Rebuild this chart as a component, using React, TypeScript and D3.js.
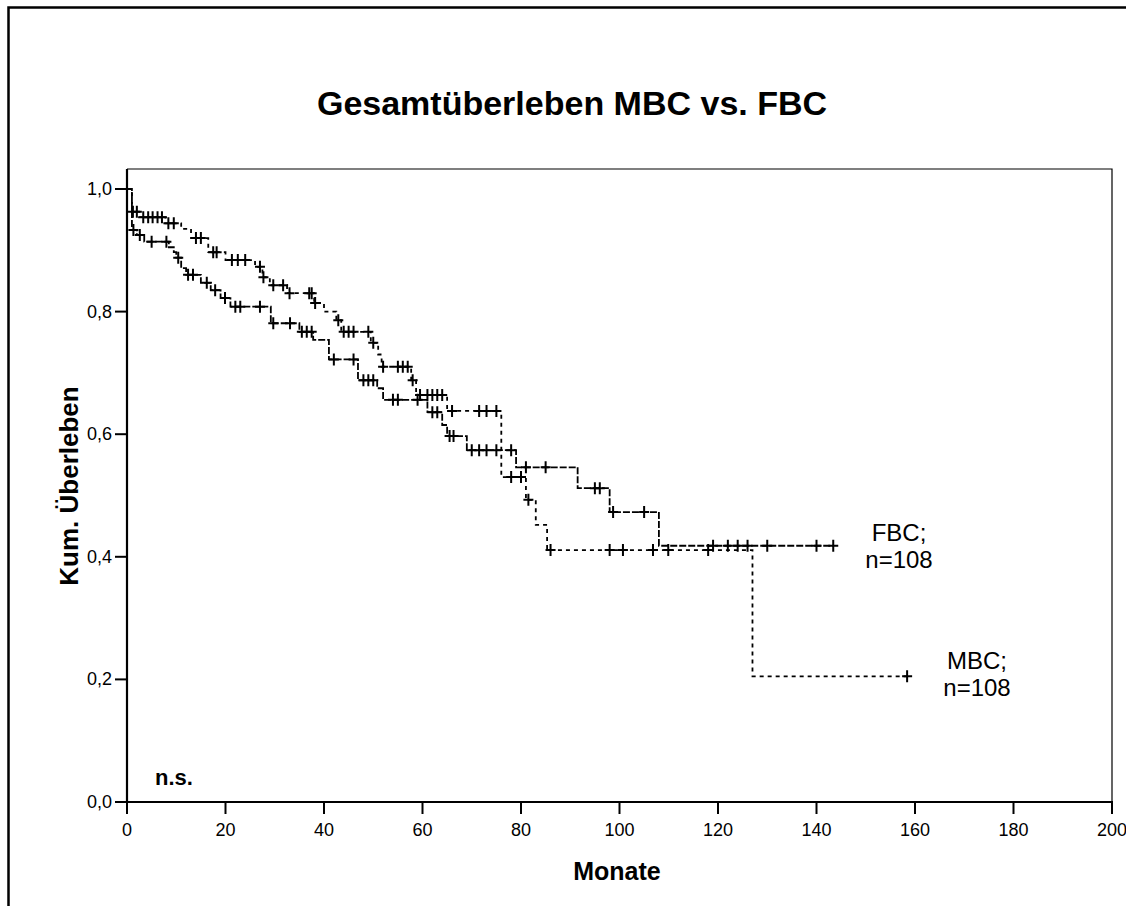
import * as d3 from 'd3';

// Kaplan-Meier: Gesamtüberleben MBC vs. FBC
const title = 'Gesamtüberleben MBC vs. FBC';
const xLabel = 'Monate';
const yLabel = 'Kum. Überleben';
const xTicks = [0, 20, 40, 60, 80, 100, 120, 140, 160, 180, 200];
const yTicks = [0, 0.2, 0.4, 0.6, 0.8, 1.0];

// MBC (dashed) - step times and survival after each step
const mbcTimes = [0, 1, 2.5, 7.8, 11, 13, 16.5, 20, 26, 27.5, 29, 32.5, 38, 40, 42.5, 43.5, 49.5, 51, 51.7, 57.7, 58.7, 65, 76, 81, 83, 85.3, 127];
const mbcSurv = [1, 0.963, 0.954, 0.944, 0.935, 0.92, 0.897, 0.884, 0.873, 0.856, 0.843, 0.83, 0.814, 0.8, 0.786, 0.767, 0.749, 0.73, 0.71, 0.688, 0.664, 0.638, 0.53, 0.493, 0.452, 0.411, 0.205];
const mbcEnd = 158.4;
const mbcCensored = [1.2, 2, 3.3, 4.3, 5.2, 6.2, 7.1, 8.4, 9.5, 14, 15, 17.5, 18.2, 21.3, 22.5, 24, 27, 27.7, 29.7, 31.7, 33, 37, 37.5, 38.2, 42.9, 44, 45, 46, 49, 50, 52, 55, 56, 57, 58, 59.5, 61, 62, 63, 64, 66, 71.5, 73, 75, 78, 80, 81.5, 86, 98, 100.7, 106.8, 109.9, 118, 158.4];

// FBC
const fbcTimes = [0, 1, 2, 3.5, 8.5, 9.5, 10, 11, 12, 15, 17, 19, 21, 29.2, 35, 37.8, 41, 46.9, 50.8, 52, 61, 64, 65, 69, 79, 91.5, 98, 108];
const fbcSurv = [1, 0.933, 0.925, 0.914, 0.905, 0.897, 0.888, 0.871, 0.86, 0.847, 0.835, 0.822, 0.808, 0.781, 0.767, 0.754, 0.722, 0.688, 0.675, 0.656, 0.636, 0.615, 0.597, 0.574, 0.546, 0.512, 0.473, 0.418];
const fbcEnd = 143.4;
const fbcCensored = [1.3, 2.6, 5, 8, 10.4, 12.4, 13.4, 16.2, 17.9, 19.9, 22, 23, 27, 29.7, 33.1, 35.5, 36.5, 37.5, 42, 46, 48, 49, 50, 54, 55, 59, 62, 63, 65.5, 66.3, 70, 71.5, 73, 75, 78, 81, 85, 95, 96, 98.7, 105, 119, 122, 124, 126, 130, 140, 143.4];

const groups = [
  { name: 'MBC;', n: 'n=108', times: mbcTimes, surv: mbcSurv, end: mbcEnd, censored: mbcCensored, dash: '4,4', labelX: 977, labelY: 669 },
  { name: 'FBC;', n: 'n=108', times: fbcTimes, surv: fbcSurv, end: fbcEnd, censored: fbcCensored, dash: '7,2', labelX: 899, labelY: 541 },
];

const W = 1126;
const H = 906;
const font = "'Liberation Sans', Arial, sans-serif";

const x = d3.scaleLinear().domain([0, 200]).range([127, 1112]);
const y = d3.scaleLinear().domain([0, 1]).range([802, 189]);
const plotTop = 169;

const fmt = (v: number) => d3.format('.1f')(v).replace('.', ',');

const survAt = (times: number[], surv: number[], t: number) => {
  const i = Math.max(0, d3.bisectRight(times, t) - 1);
  return surv[i];
};

const line = d3.line<[number, number]>()
  .x(d => x(d[0]))
  .y(d => y(d[1]))
  .curve(d3.curveStepAfter);

export default function App() {
  return (
    <svg width={W} height={H} style={{ position: 'absolute', left: 0, top: 0, background: '#fff' }} fontFamily={font}>
      <rect x={0} y={0} width={W} height={H} fill="#fff" />
      {/* outer frame */}
      <path d={`M8.5,${H + 5} V7.5 H${W + 5}`} fill="none" stroke="#000" strokeWidth={2.5} />

      <text x={572} y={115} textAnchor="middle" fontSize={34} fontWeight="bold">{title}</text>

      {/* plot box */}
      <path d={`M127,${plotTop} H1112 V802`} fill="none" stroke="#000" strokeWidth={1.2} />
      <line x1={127} x2={127} y1={plotTop} y2={803} stroke="#000" strokeWidth={2.2} />
      <line x1={126} x2={1113} y1={802} y2={802} stroke="#000" strokeWidth={2.2} />

      {yTicks.map(t => (
        <g key={`y${t}`}>
          <line x1={115} x2={127} y1={y(t)} y2={y(t)} stroke="#000" strokeWidth={2} />
          <text x={112} y={y(t) + 6} textAnchor="end" fontSize={18}>{fmt(t)}</text>
        </g>
      ))}
      {xTicks.map(t => (
        <g key={`x${t}`}>
          <line x1={x(t)} x2={x(t)} y1={802} y2={814} stroke="#000" strokeWidth={2} />
          <text x={x(t)} y={836} textAnchor="middle" fontSize={18}>{t}</text>
        </g>
      ))}

      <text x={617} y={880} textAnchor="middle" fontSize={25} fontWeight="bold">{xLabel}</text>
      <text transform="translate(78,486) rotate(-90)" textAnchor="middle" fontSize={26} fontWeight="bold">{yLabel}</text>

      {groups.map(g => {
        const pts: [number, number][] = g.times.map((t, i) => [t, g.surv[i]] as [number, number]);
        pts.push([g.end, g.surv[g.surv.length - 1]]);
        return (
          <g key={g.name}>
            <path d={line(pts) || ''} fill="none" stroke="#000" strokeWidth={1.8} strokeDasharray={g.dash} />
            {g.censored.map((c, i) => {
              const cx = x(c);
              const cy = y(survAt(g.times, g.surv, c));
              return (
                <path key={i} d={`M${cx - 5},${cy} H${cx + 5} M${cx},${cy - 6} V${cy + 6}`} stroke="#000" strokeWidth={2} fill="none" />
              );
            })}
            <text x={g.labelX} y={g.labelY} textAnchor="middle" fontSize={24}>{g.name}</text>
            <text x={g.labelX} y={g.labelY + 27} textAnchor="middle" fontSize={24}>{g.n}</text>
          </g>
        );
      })}

      <text x={155} y={785} fontSize={22} fontWeight="bold">n.s.</text>
    </svg>
  );
}
